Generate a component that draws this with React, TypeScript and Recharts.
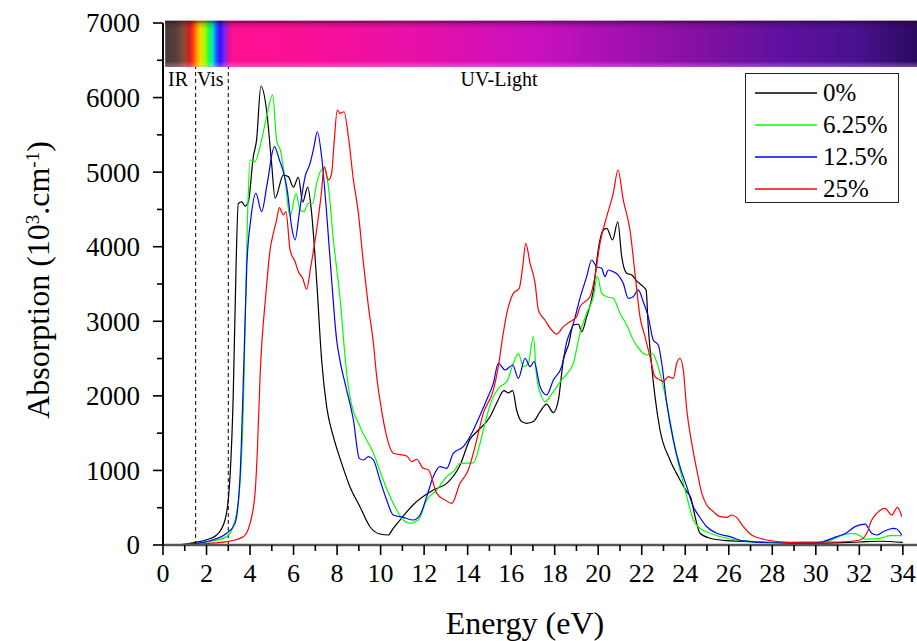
import {
  LineChart,
  Line,
  XAxis,
  YAxis,
  ReferenceArea,
  ReferenceLine,
  ReferenceDot,
  Legend,
  Label,
} from "recharts";

// Absorption spectra, [energy (eV), absorption (10^3 cm^-1)]
const curve0: [number, number][] = [
  [0, 0], [0.5, 3], [1.0, 10], [1.38, 30], [2.0, 70], [2.47, 134], [2.85, 335],
  [3.08, 916], [3.23, 2040], [3.31, 3110], [3.46, 4580], [3.62, 4600], [3.77, 4545],
  [3.92, 4600], [4.15, 5207], [4.3, 5430], [4.5, 6155], [4.76, 5830], [4.99, 5120],
  [5.15, 4650], [5.53, 4960], [5.76, 4940], [5.99, 4800], [6.22, 4930], [6.42, 4600],
  [6.65, 4800], [6.83, 4450], [7.06, 3550], [7.29, 2480], [7.52, 1855], [7.83, 1452],
  [8.21, 1095], [8.59, 782], [9.05, 514], [9.51, 245], [9.97, 147], [10.35, 134],
  [10.58, 224], [10.89, 335], [11.5, 540], [12.42, 737], [13.04, 827], [13.65, 1070],
  [14.11, 1420], [14.42, 1519], [15.03, 1720], [15.33, 1900], [15.67, 2070], [15.87, 2040],
  [16.07, 2070], [16.25, 1810], [16.48, 1655], [16.71, 1632], [17.02, 1655], [17.33, 1788],
  [17.63, 1890], [17.94, 1775], [18.17, 1945], [18.4, 2480], [18.63, 2680], [18.86, 2950],
  [19.09, 2960], [19.24, 2860], [19.47, 3062], [19.78, 3420], [20.0, 3956], [20.23, 4224],
  [20.39, 4247], [20.66, 4090], [20.9, 4335], [21.08, 3866], [21.31, 3643], [21.54, 3620],
  [21.8, 3531], [22.07, 3464], [22.2, 3420], [22.3, 2928], [22.46, 2391], [22.61, 1990],
  [22.84, 1542], [23.3, 1140], [23.68, 916], [24.07, 715], [24.26, 630], [24.45, 380],
  [24.68, 157], [25.14, 90], [25.9, 58], [27.43, 40], [29, 25], [30.5, 25], [32, 40],
  [33, 50], [34, 35],
];

const curve625: [number, number][] = [
  [0, 0], [1.0, 8], [2.0, 40], [2.93, 112], [3.31, 335], [3.54, 827], [3.69, 1810],
  [3.88, 4360], [4.0, 5163], [4.23, 5140], [4.46, 5341], [4.73, 5700], [5.04, 6035],
  [5.22, 5431], [5.41, 5275], [5.61, 4895], [5.84, 4403], [6.11, 4716], [6.3, 4492],
  [6.48, 4470], [6.68, 4582], [6.88, 4582], [7.06, 4850], [7.37, 5050], [7.6, 4805],
  [7.83, 4090], [8.13, 3330], [8.44, 2303], [8.59, 1990], [9.05, 1587], [9.67, 1230],
  [10.12, 872], [10.58, 559], [11.04, 335], [11.35, 291], [11.73, 335], [12.12, 603],
  [12.58, 737], [13.04, 916], [13.4, 1000], [13.65, 1095], [14.26, 1100], [14.57, 1364],
  [14.87, 1720], [15.18, 1990], [15.49, 2123], [15.8, 2190], [16.1, 2437], [16.33, 2571],
  [16.56, 2392], [16.79, 2437], [17.02, 2793], [17.17, 2257], [17.4, 1990], [17.55, 1922],
  [17.94, 2056], [18.32, 2213], [18.55, 2290], [18.86, 2437], [19.16, 2839], [19.47, 3107],
  [19.78, 3330], [19.96, 3607], [20.16, 3375], [20.39, 3330], [20.69, 3308], [21.0, 3107],
  [21.31, 2950], [21.61, 2749], [21.92, 2615], [22.23, 2548], [22.46, 2570], [22.69, 2458],
  [22.92, 2213], [23.15, 1900], [23.38, 1542], [23.61, 1184], [23.84, 916], [24.07, 648],
  [24.37, 335], [24.68, 224], [25.14, 157], [25.9, 90], [26.67, 55], [28, 35], [30, 30],
  [30.8, 76], [31.26, 134], [31.65, 157], [32.03, 125], [32.26, 80], [32.95, 90],
  [33.41, 125], [33.95, 125],
];

const curve125: [number, number][] = [
  [0, 0], [1.0, 8], [2.0, 45], [2.93, 157], [3.31, 290], [3.54, 916], [3.72, 2480],
  [3.85, 3732], [4.03, 4358], [4.27, 4716], [4.53, 4470], [4.79, 4850], [5.12, 5341],
  [5.35, 5163], [5.53, 5006], [5.71, 4760], [5.91, 4268], [6.07, 4090], [6.26, 4448],
  [6.53, 4939], [6.76, 5118], [6.94, 5341], [7.09, 5542], [7.29, 5207], [7.52, 4448],
  [7.75, 3553], [7.98, 2749], [8.13, 2480], [8.44, 2078], [8.75, 1676], [9.02, 1162],
  [9.21, 1140], [9.44, 1184], [9.67, 1140], [9.97, 872], [10.28, 603], [10.58, 402],
  [11.04, 371], [11.5, 335], [11.81, 402], [12.12, 648], [12.42, 916], [12.73, 1050],
  [13.04, 1028], [13.34, 1230], [13.8, 1318], [14.19, 1498], [14.57, 1740], [14.87, 1945],
  [15.18, 2168], [15.41, 2437], [15.72, 2347], [16.07, 2414], [16.33, 2235], [16.64, 2504],
  [16.87, 2392], [17.05, 2458], [17.33, 2123], [17.63, 2012], [17.94, 2213], [18.32, 2392],
  [18.55, 2720], [18.86, 2973], [19.16, 3308], [19.47, 3598], [19.7, 3822], [19.93, 3732],
  [20.16, 3710], [20.31, 3598], [20.46, 3688], [20.69, 3665], [20.92, 3620], [21.15, 3509],
  [21.38, 3308], [21.61, 3330], [21.84, 3420], [22.07, 3263], [22.3, 3062], [22.53, 2749],
  [22.76, 2682], [22.92, 2437], [23.15, 1900], [23.45, 1408], [23.76, 1050], [24.07, 782],
  [24.37, 514], [24.6, 402], [24.99, 245], [25.45, 157], [26.06, 112], [26.67, 55],
  [28, 30], [30, 28], [30.96, 112], [31.42, 165], [31.8, 246], [32.26, 281], [32.57, 157],
  [32.8, 134], [33.1, 178], [33.56, 224], [33.72, 215], [33.95, 134],
];

const curve25: [number, number][] = [
  [0, 0], [1.0, 5], [2.0, 20], [2.93, 45], [3.69, 112], [4.0, 291], [4.23, 693],
  [4.35, 1364], [4.46, 2257], [4.73, 3375], [4.92, 3956], [5.07, 4180], [5.22, 4358],
  [5.35, 4523], [5.53, 4425], [5.65, 4470], [5.84, 3956], [6.07, 3799], [6.22, 3665],
  [6.42, 3576], [6.6, 3429], [6.79, 3732], [7.06, 4224], [7.26, 4671], [7.41, 5073],
  [7.6, 4895], [7.75, 4984], [7.86, 5386], [8.01, 5833], [8.13, 5789], [8.32, 5810],
  [8.52, 5475], [8.75, 4895], [8.98, 4448], [9.21, 3777], [9.44, 3196], [9.67, 2705],
  [9.82, 2257], [9.97, 1945], [10.28, 1452], [10.58, 1230], [11.2, 1194], [11.43, 1117],
  [11.66, 1150], [11.96, 1028], [12.19, 1010], [12.58, 693], [12.96, 603], [13.27, 559],
  [13.65, 827], [14.03, 1006], [14.34, 1318], [14.72, 1766], [15.18, 2078], [15.41, 2392],
  [15.61, 2793], [15.8, 3107], [16.1, 3375], [16.37, 3442], [16.53, 3732], [16.67, 4045],
  [16.87, 3777], [17.1, 3509], [17.25, 3151], [17.55, 3017], [17.86, 2883], [18.09, 2829],
  [18.4, 2928], [18.7, 2994], [19.01, 3062], [19.16, 3196], [19.62, 3330], [19.85, 3598],
  [20.08, 4045], [20.39, 4403], [20.69, 4716], [20.91, 5029], [21.15, 4627], [21.46, 4224],
  [21.69, 3643], [21.92, 3062], [22.15, 2793], [22.38, 2525], [22.61, 2257], [22.84, 2213],
  [22.99, 2190], [23.22, 2257], [23.45, 2235], [23.61, 2437], [23.76, 2504], [23.91, 2347],
  [24.07, 1810], [24.3, 1364], [24.53, 1006], [24.76, 693], [24.99, 536], [25.29, 447],
  [25.6, 380], [25.9, 370], [26.13, 402], [26.36, 370], [26.67, 245], [27.05, 134],
  [27.44, 90], [27.74, 67], [28.81, 36], [30.34, 40], [31.11, 40], [32.03, 67],
  [32.34, 157], [32.57, 335], [32.8, 425], [33.18, 492], [33.49, 402], [33.75, 505],
  [33.95, 380],
];

const seriesNames = ["0%", "6.25%", "12.5%", "25%"];
const seriesColors = ["#000000", "#00ff00", "#0000ff", "#ff0000"];
const seriesCurves = [curve0, curve625, curve125, curve25];

const xTicks = [
  0, 1, 2, 3, 4, 5, 6, 7, 8, 9, 10, 11, 12, 13, 14, 15, 16, 17, 18, 19, 20, 21, 22,
  23, 24, 25, 26, 27, 28, 29, 30, 31, 32, 33, 34,
];
const yTicks = [
  0, 500, 1000, 1500, 2000, 2500, 3000, 3500, 4000, 4500, 5000, 5500, 6000, 6500, 7000,
];

// spectral regions: IR | Vis | UV
const irVisEdge = 1.5;
const visUvEdge = 3;
const regionLabels = [
  { text: "IR", x: 0.69 },
  { text: "Vis", x: 2.17 },
  { text: "UV-Light", x: 15.44 },
];

const FONT = "'Liberation Serif', 'Times New Roman', serif";
const X_MAX = 34.65;

const series = seriesNames.map((name, i) => ({
  name,
  color: seriesColors[i],
  data: seriesCurves[i].map(([e, a]) => ({ e, a })),
}));

function XTick(props: any) {
  const { x, y, payload } = props;
  const v = payload.value as number;
  const major = v % 2 === 0;
  const axisY = y - 18;
  return (
    <g>
      <line x1={x} x2={x} y1={axisY} y2={axisY + (major ? 10 : 6)} stroke="#000" strokeWidth={1.6} />
      {major && (
        <text x={x} y={y} dy="0.72em" textAnchor="middle" fontSize={26} fontFamily={FONT} fill="#000">
          {v}
        </text>
      )}
    </g>
  );
}

function YTick(props: any) {
  const { x, y, payload } = props;
  const v = payload.value as number;
  const major = v % 1000 === 0;
  const axisX = x + 23;
  return (
    <g>
      <line x1={axisX} x2={axisX - (major ? 10 : 6)} y1={y} y2={y} stroke="#000" strokeWidth={1.6} />
      {major && (
        <text x={x} y={y} dy="0.35em" textAnchor="end" fontSize={27} fontFamily={FONT} fill="#000">
          {v}
        </text>
      )}
    </g>
  );
}

function LegendBox() {
  return (
    <div
      style={{
        boxSizing: "border-box",
        width: 154,
        height: 130,
        border: "1px solid #222",
        background: "#fff",
        paddingTop: 3,
        fontFamily: FONT,
        fontSize: 25,
      }}
    >
      {series.map((s) => (
        <div key={s.name} style={{ display: "flex", alignItems: "center", height: 32 }}>
          <svg width={71} height={4} style={{ display: "block" }}>
            <line x1={9} x2={71} y1={2} y2={2} stroke={s.color} strokeWidth={1.3} />
          </svg>
          <span style={{ marginLeft: 6, lineHeight: "32px", color: "#000" }}>{s.name}</span>
        </div>
      ))}
    </div>
  );
}

function YAxisTitle() {
  return (
    <text
      transform="translate(49,280) rotate(-90)"
      textAnchor="middle"
      fontSize={32}
      fontFamily={FONT}
      fill="#000"
    >
      Absorption (10
      <tspan baselineShift="super" fontSize={19}>3</tspan>
      .cm
      <tspan baselineShift="super" fontSize={19}>-1</tspan>)
    </text>
  );
}

function XAxisTitle(props: any) {
  const { viewBox } = props;
  return (
    <text
      x={525}
      y={viewBox.y + 89}
      textAnchor="middle"
      fontSize={32}
      fontFamily={FONT}
      fill="#000"
    >
      Energy (eV)
    </text>
  );
}

export default function App() {
  return (
    <div style={{ position: "absolute", left: 0, top: 0, width: 917, height: 641, background: "#fff" }}>
      <LineChart width={917} height={641} margin={{ top: 23, right: 0, bottom: 0, left: 0 }}>
        <defs>
          <linearGradient id="spectrumFill" x1="0" y1="0" x2="1" y2="0">
            <stop offset="0" stopColor="#4a3838" />
            <stop offset="0.015" stopColor="#5a4038" />
            <stop offset="0.025" stopColor="#8a4a38" />
            <stop offset="0.032" stopColor="#d02020" />
            <stop offset="0.036" stopColor="#ff2a10" />
            <stop offset="0.041" stopColor="#ff8a00" />
            <stop offset="0.047" stopColor="#f0e000" />
            <stop offset="0.053" stopColor="#a0ff00" />
            <stop offset="0.058" stopColor="#20ff40" />
            <stop offset="0.063" stopColor="#00e8d0" />
            <stop offset="0.068" stopColor="#2060ff" />
            <stop offset="0.073" stopColor="#3010ff" />
            <stop offset="0.079" stopColor="#8020f0" />
            <stop offset="0.085" stopColor="#e010a0" />
            <stop offset="0.09" stopColor="#ff1090" />
            <stop offset="0.2" stopColor="#f81098" />
            <stop offset="0.33" stopColor="#e810a8" />
            <stop offset="0.5" stopColor="#c810c0" />
            <stop offset="0.62" stopColor="#a010b0" />
            <stop offset="0.72" stopColor="#8010a0" />
            <stop offset="0.82" stopColor="#6010a0" />
            <stop offset="0.92" stopColor="#4a1090" />
            <stop offset="1" stopColor="#2a0a60" />
          </linearGradient>
          <linearGradient id="spectrumShade" x1="0" y1="0" x2="0" y2="1">
            <stop offset="0" stopColor="#200020" stopOpacity={0.6} />
            <stop offset="0.07" stopColor="#200020" stopOpacity={0.2} />
            <stop offset="0.18" stopColor="#200020" stopOpacity={0} />
            <stop offset="0.88" stopColor="#ffffff" stopOpacity={0} />
            <stop offset="1" stopColor="#ffb0ff" stopOpacity={0.35} />
          </linearGradient>
        </defs>

        <XAxis
          dataKey="e"
          type="number"
          domain={[0, X_MAX]}
          allowDataOverflow
          ticks={xTicks}
          interval={0}
          height={96}
          tickSize={8}
          tickMargin={10}
          tickLine={false}
          tick={(p: any) => <XTick {...p} />}
          axisLine={{ stroke: "#555", strokeWidth: 2.5 }}
        >
          <Label content={(p: any) => <XAxisTitle {...p} />} />
        </XAxis>
        <YAxis
          type="number"
          domain={[0, 7000]}
          allowDataOverflow
          ticks={yTicks}
          interval={0}
          width={163}
          tickSize={8}
          tickMargin={15}
          tickLine={false}
          tick={(p: any) => <YTick {...p} />}
          axisLine={{ stroke: "#000", strokeWidth: 2 }}
        >
          <Label content={() => <YAxisTitle />} />
        </YAxis>

        <ReferenceArea
          x1={0.1}
          x2={X_MAX}
          y1={6410}
          y2={7030}
          ifOverflow="visible"
          fill="url(#spectrumFill)"
          fillOpacity={1}
          stroke="none"
        />
        <ReferenceArea
          x1={0.1}
          x2={X_MAX}
          y1={6410}
          y2={7030}
          ifOverflow="visible"
          fill="url(#spectrumShade)"
          fillOpacity={1}
          stroke="none"
        />

        <ReferenceLine
          segment={[{ x: irVisEdge, y: 0 }, { x: irVisEdge, y: 6410 }]}
          stroke="#000"
          strokeWidth={1}
          strokeDasharray="4 3"
        />
        <ReferenceLine
          segment={[{ x: visUvEdge, y: 0 }, { x: visUvEdge, y: 6410 }]}
          stroke="#000"
          strokeWidth={1}
          strokeDasharray="4 3"
        />

        {regionLabels.map((r) => (
          <ReferenceDot
            key={r.text}
            x={r.x}
            y={6250}
            r={0}
            stroke="none"
            fill="none"
            label={{ value: r.text, position: "center", fontSize: 20, fontFamily: FONT, fill: "#000" }}
          />
        ))}

        {series.map((s) => (
          <Line
            key={s.name}
            name={s.name}
            data={s.data}
            dataKey="a"
            type="monotone"
            stroke={s.color}
            strokeWidth={1.2}
            dot={false}
            activeDot={false}
            isAnimationActive={false}
          />
        ))}

        <Legend
          layout="vertical"
          align="center"
          verticalAlign="middle"
          content={() => <LegendBox />}
          wrapperStyle={{ position: "absolute", left: 745, top: 73, width: 154, height: 130 }}
        />
      </LineChart>
    </div>
  );
}
